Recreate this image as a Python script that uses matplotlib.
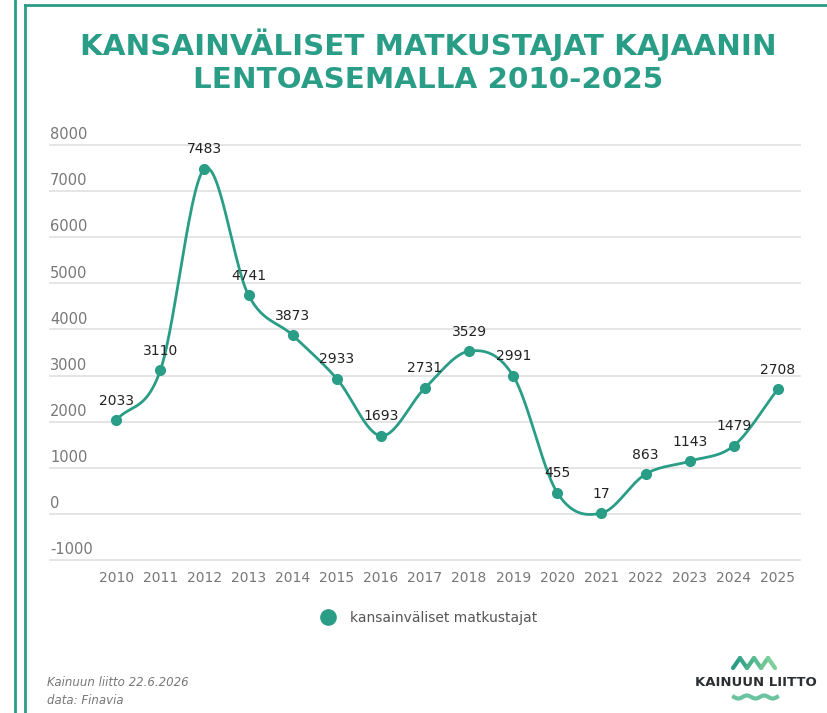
import numpy as np
import matplotlib.pyplot as plt
from matplotlib.lines import Line2D

# data
years = [2010, 2011, 2012, 2013, 2014, 2015, 2016, 2017,
         2018, 2019, 2020, 2021, 2022, 2023, 2024, 2025]
passengers = [2033, 3110, 7483, 4741, 3873, 2933, 1693, 2731,
              3529, 2991, 455, 17, 863, 1143, 1479, 2708]
y_ticks = [-1000, 0, 1000, 2000, 3000, 4000, 5000, 6000, 7000, 8000]

title = "KANSAINVÄLISET MATKUSTAJAT KAJAANIN\nLENTOASEMALLA 2010-2025"
series_name = "kansainväliset matkustajat"
footer = ["Kainuun liitto 22.6.2026", "data: Finavia"]

TEAL = "#2a9d87"
GRID = "#e3e3e3"
TXT = "#777777"

W, H = 828, 713
fig = plt.figure(figsize=(W / 100, H / 100), dpi=100)
plt.rcParams['font.family'] = ['DejaVu Sans']


def fx(px):
    return px / W


def fy(py):
    return 1 - py / H


# axes placed in pixel coordinates
left, right, top, bottom = 50, 800, 145, 560
ax = fig.add_axes([fx(left), fy(bottom), fx(right - left), (bottom - top) / H])

x = np.arange(len(years))
y = np.array(passengers, dtype=float)


# smooth curve (Catmull-Rom) through the points
def catmull(xs, ys, n=30):
    px = np.concatenate([[2 * xs[0] - xs[1]], xs, [2 * xs[-1] - xs[-2]]])
    py = np.concatenate([[2 * ys[0] - ys[1]], ys, [2 * ys[-1] - ys[-2]]])
    outx, outy = [], []
    t = np.linspace(0, 1, n)
    for i in range(1, len(px) - 2):
        for arr, out in ((px, outx), (py, outy)):
            p0, p1, p2, p3 = arr[i - 1], arr[i], arr[i + 1], arr[i + 2]
            out.extend(0.5 * ((2 * p1) + (-p0 + p2) * t
                              + (2 * p0 - 5 * p1 + 4 * p2 - p3) * t ** 2
                              + (-p0 + 3 * p1 - 3 * p2 + p3) * t ** 3))
    return np.array(outx), np.array(outy)


sx, sy = catmull(x.astype(float), y)
ax.plot(sx, sy, color=TEAL, lw=2, zorder=3)
ax.plot(x, y, 'o', color=TEAL, ms=7, zorder=4)

for xi, yi in zip(x, passengers):
    ax.annotate(str(yi), (xi, yi), xytext=(0, 9), textcoords='offset points',
                ha='center', va='bottom', fontsize=10, color='#222222')

ax.set_xlim(-1.5, 15.5)
ax.set_ylim(-1000, 8000)
for t in y_ticks:
    ax.axhline(t, color=GRID, lw=1.3, zorder=1, clip_on=False)
    ax.text(0, t + 60, str(t), transform=ax.get_yaxis_transform(),
            ha='left', va='bottom', fontsize=10.5, color=TXT)

ax.set_yticks([])
ax.set_xticks(x)
ax.set_xticklabels([str(v) for v in years], fontsize=10, color=TXT)
ax.tick_params(axis='x', length=0, pad=8)
for s in ax.spines.values():
    s.set_visible(False)
ax.patch.set_alpha(0)

# title
fig.text(fx(428), fy(61), title, ha='center', va='center', fontsize=21.2,
         fontweight='bold', color=TEAL, linespacing=1.22)

# legend
ax.legend([Line2D([], [], marker='o', color=TEAL, ls='', ms=11)], [series_name],
          loc='center', bbox_to_anchor=(fx(426), fy(618)),
          bbox_transform=fig.transFigure, frameon=False, fontsize=10,
          labelcolor='#555555', handletextpad=0.6)

# footer
fig.text(fx(47), fy(683), footer[0], fontsize=8.5, style='italic', color=TXT, va='center')
fig.text(fx(47), fy(700), footer[1], fontsize=8.5, style='italic', color=TXT, va='center')

# frame lines
fig.add_artist(Line2D([fx(15), fx(15)], [fy(0), fy(713)], color=TEAL, lw=2))
fig.add_artist(Line2D([fx(25), fx(25)], [fy(5), fy(713)], color=TEAL, lw=2))
fig.add_artist(Line2D([fx(25), fx(828)], [fy(5), fy(5)], color=TEAL, lw=2))

# logo
fig.text(fx(756), fy(683), "KAINUUN LIITTO", ha='center', va='center',
         fontsize=9.5, fontweight='bold', color='#2b2f33')
zx = [733, 740, 747, 754, 761, 768, 775]
zy = [668, 658, 668, 658, 668, 658, 668]
for i in range(len(zx) - 1):
    c = plt.cm.colors.to_rgb(TEAL)
    k = i / 6
    col = (c[0] + (0.55 - c[0]) * k, c[1] + (0.85 - c[1]) * k, c[2] + (0.6 - c[2]) * k)
    fig.add_artist(Line2D([fx(zx[i]), fx(zx[i + 1])], [fy(zy[i]), fy(zy[i + 1])],
                          color=col, lw=3, solid_capstyle='round'))
wx = np.linspace(734, 777, 60)
wy = 697 + 1.5 * np.sin((wx - 734) / 43 * 2 * np.pi * 2.5)
fig.add_artist(Line2D(fx(wx), fy(wy), color='#6cc3a0', lw=3))

fig.savefig('out.png', dpi=100)
